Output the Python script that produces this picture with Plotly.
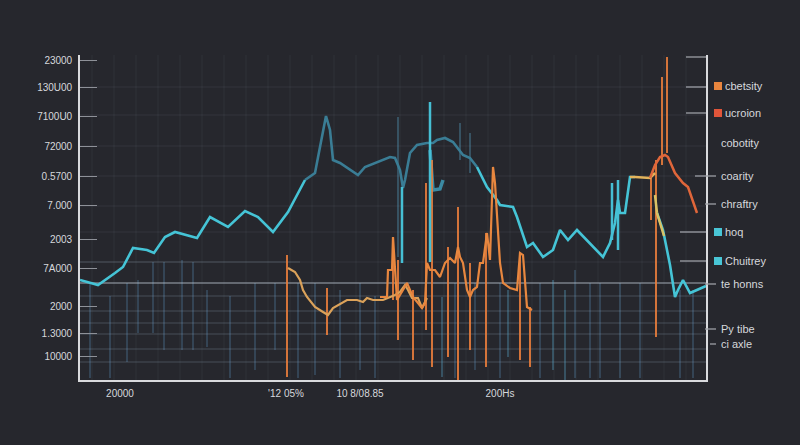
import plotly.graph_objects as go

BG = "#26272d"

# ---------------- data (x: time units, y: value units; y axis is reversed) ----------------
y_tick_vals = [60, 87, 116, 146, 176, 205, 239, 268, 306, 333, 356]
y_tick_text = ["23000", "130U00", "7100U0", "72000", "0.5700", "7.000", "2003", "7A000", "2000", "1.3000", "10000"]
x_tick_vals = [120, 286, 360, 500]
x_tick_text = ["20000", "'12 05%", "10 8/08.85", "200Hs"]

cyan_left_x = [80, 98, 115, 123, 133, 147, 154, 165, 175, 197, 210, 228, 245, 258, 273, 288, 305]
cyan_left_y = [280, 285, 273, 267, 248, 250, 253, 237, 232, 238, 217, 227, 211, 217, 232, 212, 180]

teal_mid_x = [305, 315, 320, 326, 330, 333, 340, 358, 365, 377, 390, 395, 400, 403, 405, 410, 417, 427, 433, 437, 445, 453, 463, 470, 477]
teal_mid_y = [180, 173, 147, 116, 130, 160, 163, 175, 167, 162, 157, 158, 170, 188, 180, 153, 145, 143, 143, 140, 138, 142, 155, 158, 167]

teal_dip_x = [430, 433, 440, 443]
teal_dip_y = [150, 190, 189, 180]

cyan_right_x = [477, 487, 497, 500, 513, 517, 527, 533, 543, 553, 560, 568, 577, 590, 603, 610, 615, 618, 620, 625, 630, 635]
cyan_right_y = [167, 187, 200, 205, 207, 217, 247, 243, 257, 250, 230, 240, 230, 243, 257, 243, 223, 200, 213, 213, 177, 177]

yellow_top_x = [630, 635, 650, 655]
yellow_top_y = [177, 177, 178, 173]

cyan_end_x = [657, 663, 670, 675, 678, 683, 690, 697, 706]
cyan_end_y = [213, 230, 265, 297, 290, 280, 293, 290, 286]

yellow_drop_x = [655, 657, 664]
yellow_drop_y = [195, 213, 236]

amber_x = [288, 295, 300, 303, 307, 315, 323, 328, 333, 338, 342, 347, 357, 363, 367, 373, 383, 390, 395, 400, 405, 408, 412, 418, 422, 427]
amber_y = [268, 272, 280, 290, 297, 307, 312, 315, 308, 305, 303, 300, 300, 302, 298, 300, 300, 297, 295, 292, 285, 290, 298, 298, 308, 298]

orange_mid_x = [380, 387, 388, 392, 393, 397, 403, 407, 413, 418, 422, 425, 427, 430, 435, 440, 445, 450, 455, 458, 460, 463, 467, 470, 473, 477, 480, 483, 487, 490, 493, 495, 498, 500, 503, 510, 517, 520, 523, 527, 532]
orange_mid_y = [297, 297, 270, 270, 237, 300, 290, 283, 297, 303, 308, 303, 263, 270, 270, 277, 263, 258, 263, 247, 257, 263, 290, 297, 290, 287, 263, 263, 233, 260, 167, 183, 230, 263, 283, 288, 290, 253, 255, 307, 310]

red_curve_x = [650, 655, 660, 665, 668, 675, 683, 688, 697]
red_curve_y = [178, 165, 157, 155, 157, 173, 183, 187, 213]

# vertical spikes: x, top, bottom
orange_spike_x = [287, 327, 393, 398, 413, 426, 432, 448, 458, 470, 486, 520, 530, 651, 656, 662, 667]
orange_spike_top = [255, 288, 237, 260, 290, 183, 160, 247, 207, 263, 233, 253, 307, 177, 160, 77, 57]
orange_spike_bot = [377, 335, 300, 340, 360, 330, 367, 357, 380, 350, 367, 360, 367, 220, 337, 165, 153]

cyan_spike_x = [402, 430, 612, 618]
cyan_spike_top = [187, 102, 183, 180]
cyan_spike_bot = [263, 262, 240, 250]

faint_spike_x = [398, 460, 470, 442, 508, 553, 565]
faint_spike_top = [117, 123, 133, 297, 290, 280, 290]
faint_spike_bot = [257, 160, 173, 377, 357, 370, 380]

grid_v_x = [90, 110, 127, 138, 153, 164, 182, 193, 207, 230, 255, 275, 298, 315, 340, 360, 375, 455, 475, 500, 540, 575, 590, 600, 620, 640, 680, 693]
grid_v_top = [283, 296, 283, 280, 262, 262, 260, 262, 290, 296, 283, 283, 283, 283, 290, 283, 296, 283, 283, 283, 283, 270, 283, 283, 283, 283, 290, 290]
grid_v_bot = [378, 378, 362, 333, 333, 350, 350, 350, 347, 378, 370, 350, 378, 375, 378, 370, 378, 378, 370, 378, 378, 378, 378, 378, 378, 378, 378, 378]

faint_h_y = [87, 115, 146, 176, 206, 232, 262]
low_h_y = [296, 311, 323, 334, 349, 362]
main_h_y = 283

legend_text = ["cbetsity", "ucroion", "cobotity", "coarity", "chraftry", "hoq", "Chuitrey", "te honns", "Py tibe", "ci axle"]
legend_y = [86, 113, 143, 176, 204, 232, 261, 284, 329, 344]
legend_mark = ["#e8853e", "#e0553a", None, None, None, "#49c6d6", "#49c6d6", None, None, None]

X0, X1, Y0, Y1 = 80, 706, 380, 55


def segs(xs, tops, bots):
    sx, sy = [], []
    for x, t, b in zip(xs, tops, bots):
        sx += [x, x, None]
        sy += [t, b, None]
    return sx, sy


fig = go.Figure()

# faint full-height grid
fx, fy = [], []
x = 92
while x < X1:
    fx += [x, x, None]; fy += [Y1, Y0, None]
    x += 22
fig.add_trace(go.Scatter(x=fx, y=fy, mode="lines", line=dict(color="rgba(120,140,165,0.10)", width=1), hoverinfo="skip"))
hx, hy = [], []
for yy in faint_h_y:
    hx += [X0, X1, None]; hy += [yy, yy, None]
fig.add_trace(go.Scatter(x=hx, y=hy, mode="lines", line=dict(color="rgba(150,160,175,0.12)", width=1), hoverinfo="skip"))

# lower grid
gx, gy = segs(grid_v_x, grid_v_top, grid_v_bot)
fig.add_trace(go.Scatter(x=gx, y=gy, mode="lines", line=dict(color="rgba(95,150,195,0.45)", width=1.2), hoverinfo="skip"))
lx, ly = [], []
for yy in low_h_y:
    lx += [X0, X1, None]; ly += [yy, yy, None]
fig.add_trace(go.Scatter(x=lx, y=ly, mode="lines", line=dict(color="rgba(150,170,190,0.30)", width=1.2), hoverinfo="skip"))
fig.add_trace(go.Scatter(x=[X0, X1], y=[main_h_y, main_h_y], mode="lines", line=dict(color="rgba(190,200,212,0.55)", width=1.4), hoverinfo="skip"))
fig.add_trace(go.Scatter(x=[X0, 300], y=[262, 262], mode="lines", line=dict(color="rgba(150,165,180,0.30)", width=1.2), hoverinfo="skip"))

# faint spikes
sx, sy = segs(faint_spike_x, faint_spike_top, faint_spike_bot)
fig.add_trace(go.Scatter(x=sx, y=sy, mode="lines", line=dict(color="rgba(90,170,205,0.45)", width=1.5), hoverinfo="skip"))

# lines
fig.add_trace(go.Scatter(x=teal_mid_x, y=teal_mid_y, mode="lines", line=dict(color="#3a7d95", width=2.6), hoverinfo="skip"))
fig.add_trace(go.Scatter(x=teal_dip_x, y=teal_dip_y, mode="lines", line=dict(color="#3b8aa3", width=3.5), hoverinfo="skip"))
fig.add_trace(go.Scatter(x=cyan_left_x, y=cyan_left_y, mode="lines", line=dict(color="#45c4d6", width=2.6), hoverinfo="skip"))
fig.add_trace(go.Scatter(x=cyan_right_x, y=cyan_right_y, mode="lines", line=dict(color="#45c4d6", width=2.6), hoverinfo="skip"))
fig.add_trace(go.Scatter(x=cyan_end_x, y=cyan_end_y, mode="lines", line=dict(color="#45c4d6", width=2.6), hoverinfo="skip"))

sx, sy = segs(orange_spike_x, orange_spike_top, orange_spike_bot)
fig.add_trace(go.Scatter(x=sx, y=sy, mode="lines", line=dict(color="rgba(232,125,60,0.9)", width=2), hoverinfo="skip"))
sx, sy = segs(cyan_spike_x, cyan_spike_top, cyan_spike_bot)
fig.add_trace(go.Scatter(x=sx, y=sy, mode="lines", line=dict(color="#46bfd4", width=2.5), hoverinfo="skip"))

fig.add_trace(go.Scatter(x=amber_x, y=amber_y, mode="lines", line=dict(color="#dba25a", width=2.2), hoverinfo="skip"))
fig.add_trace(go.Scatter(x=orange_mid_x, y=orange_mid_y, mode="lines", line=dict(color="#e8873f", width=2.2), hoverinfo="skip"))
fig.add_trace(go.Scatter(x=yellow_top_x, y=yellow_top_y, mode="lines", line=dict(color="#e3b45c", width=2.5), hoverinfo="skip"))
fig.add_trace(go.Scatter(x=yellow_drop_x, y=yellow_drop_y, mode="lines", line=dict(color="#d8c266", width=2.5), hoverinfo="skip"))
fig.add_trace(go.Scatter(x=red_curve_x, y=red_curve_y, mode="lines", line=dict(color="#e0663a", width=2.5), hoverinfo="skip"))

# right side decorations (paper coords)
def px(x):
    return (x - X0) / (X1 - X0)

def py(y):
    return (Y0 - y) / (Y0 - Y1)

shapes = []
for yy in [57, 87, 113]:
    shapes.append(dict(type="line", xref="paper", yref="paper", x0=px(686), x1=px(706), y0=py(yy), y1=py(yy), line=dict(color="#9c9fa6", width=1.3)))
line_spans = {3: (695, 716), 4: (705, 716), 5: (680, 706), 6: (680, 706), 7: (705, 716), 8: (705, 716), 9: (710, 716)}
for i, (a, b) in line_spans.items():
    shapes.append(dict(type="line", xref="paper", yref="paper", x0=px(a), x1=px(b), y0=py(legend_y[i]), y1=py(legend_y[i]), line=dict(color="#9c9fa6", width=1.3)))
annotations = []
for i, (t, yy, m) in enumerate(zip(legend_text, legend_y, legend_mark)):
    xt = 719
    if m:
        shapes.append(dict(type="rect", xref="paper", yref="paper", x0=px(714), x1=px(722), y0=py(yy + 4), y1=py(yy - 4), fillcolor=m, line=dict(width=0)))
        xt = 723
    annotations.append(dict(text=t, xref="paper", yref="paper", x=px(xt), y=py(yy), xanchor="left", yanchor="middle", showarrow=False, font=dict(size=11, color="#d6d8dc")))

fig.update_layout(
    width=800, height=445,
    margin=dict(l=80, r=94, t=55, b=65),
    paper_bgcolor=BG, plot_bgcolor=BG,
    showlegend=False,
    font=dict(family="Liberation Sans Narrow, Liberation Sans, DejaVu Sans Condensed, sans-serif", color="#d6d8dc", size=10),
    shapes=shapes, annotations=annotations,
    xaxis=dict(range=[X0, X1], showgrid=False, zeroline=False, showline=True, linecolor="#d9dadd", linewidth=1.6,
               tickvals=x_tick_vals, ticktext=x_tick_text, ticks="", tickfont=dict(size=10, color="#d6d8dc"),
               ticklabelstandoff=3),
    yaxis=dict(range=[Y0, Y1], showgrid=False, zeroline=False, showline=True, mirror=True, linecolor="#d9dadd", linewidth=1.6,
               tickvals=y_tick_vals, ticktext=y_tick_text, ticks="inside", ticklen=17, tickcolor="#8e9198", tickwidth=1.2,
               tickfont=dict(size=10, color="#d6d8dc"), ticklabelstandoff=4),
)

fig.write_html("out.html", config={"displayModeBar": False})
